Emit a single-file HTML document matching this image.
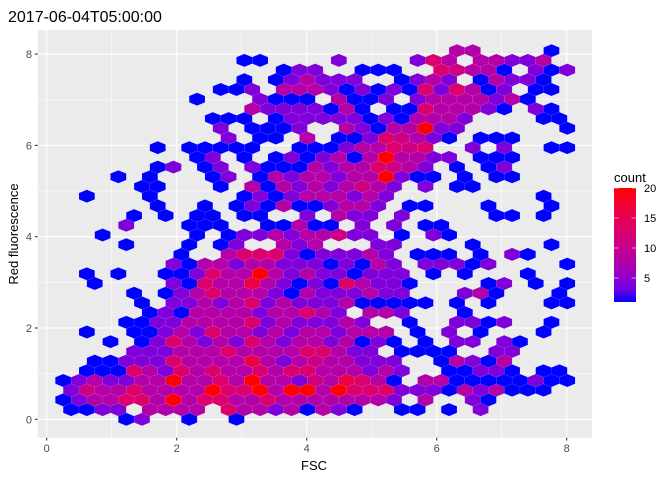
<!DOCTYPE html>
<html><head><meta charset="utf-8"><style>
html,body{margin:0;padding:0;background:#fff;}
svg{display:block;font-family:"Liberation Sans",Arial,sans-serif;}
</style></head><body>
<svg id="chart" width="672" height="480" viewBox="0 0 672 480">
<text x="8" y="22" font-size="16" fill="#000">2017-06-04T05:00:00</text>
<rect x="37.7" y="30" width="554.3" height="407.7" fill="#EBEBEB"/>
<g id="grid"></g>
<g id="hexes"></g>
<g id="axes"></g>
<text x="314" y="470" font-size="13" fill="#000" text-anchor="middle">FSC</text>
<text x="0" y="0" font-size="13" fill="#000" text-anchor="middle" transform="translate(18,234) rotate(-90)">Red fluorescence</text>
<g id="legend">
<text x="614" y="182" font-size="13" fill="#000">count</text>
</g>
</svg>
<script>
// hexbin grid (row 0 = bottom), each char = intensity level (index into levelCounts)
const rows = [
".....12..1..1.....................",
".1122.3333.533231321..11.1.2......",
".12335537355335333333" + "32.3..21" + ".....",
".243353333755737" + "7375552221323111" + "..",
".12322337335373324" + "3653" + "1.3311111211",
"..111" + "532535335355333232" + "..11221.11.",
"..." + "11222533336323" + "433222" + "..13213" + "....",
"....." + "2223335333355322" + "." + "1111" + ".." + "22" + "....",
"...." + "1.12532325323323121" + ".1.22.21...",
"..1.." + "11232533232332333" + ".1.2.1...1..",
"....." + "1122333352322232" + "..1..2212..1.",
"......" + "1213333233532" + "." + "332" + "..." + "1" + ".......",
"......" + "1.22323523222311111" + ".1.1...11",
"....." + "1.1235333213222322" + "...231...1.",
"...1...." + "2153363212153221" + "....12.1.1",
"..1.1.." + "1125337323221222" + ".1.1...1...",
"........" + "213323322212132" + ".22212....1",
"........1.." + "35552122232" + ".111.1.21...",
"....." + "1...1.12..323...22" + "....1....1.",
"...1.....1.1" + "223233422.1.21" + "........",
".....2...111..11" + "3" + "11.2.2.11" + "........",
".....1.1.11.11..2" + ".322.2" + "....." + "11.1..",
".......1..1.12131" + "1" + "2332.11...1...1.",
"..1...1.....12123" + "33232" + ".........1..",
"......11...1.31323" + "23432.2.11" + "......",
"....1.1...12.1323" + "32337211.1.11....",
".......12.12.2111" + "3" + "2335432.1.12....",
".........12.1.121" + "231373322.111....",
".......1.11111..1" + "1" + "1233545..2.2..11",
"...........2.11.3" + "." + "11254321.111....",
"...........2.1112" + ".." + "32133722......1",
"..........111.122" + "2221213332....11.",
".............3222" + "2" + "131.11533321.21.",
".........1...2111" + "." + "3112.23333231...",
"...........112.33" + "3" + "212121525312.11.",
"............1.123" + "222..1232.13221...",
"...............12" + "2" + "..111..54331.212",
"............11..." + "." + "2....253.33223..",
"..........................33....1."
];
const levelCounts = [0, 1, 4, 8, 11, 13, 16, 20];
const xTicks = [0, 2, 4, 6, 8];
const xMinor = [1, 3, 5, 7];
const yTicks = [0, 2, 4, 6, 8];
const yMinor = [1, 3, 5, 7];
const legendTicks = [5, 10, 15, 20];

const NS = "http://www.w3.org/2000/svg";
const xS = v => 46.7 + 65 * v;
const yS = v => 419.3 - 45.65 * v;
const colW = 0.2423, rowH = 0.2125, x0d = 0.012, y0d = 0.0;
const hw = colW * 65 / 2, R = rowH * 45.65 / 1.5;

function mk(tag, attrs, parent) {
  const el = document.createElementNS(NS, tag);
  for (const k in attrs) el.setAttribute(k, attrs[k]);
  parent.appendChild(el);
  return el;
}
function toLin(c){c/=255;return c<=0.04045?c/12.92:Math.pow((c+0.055)/1.055,2.4);}
function toS(c){c=c<=0.0031308?12.92*c:1.055*Math.pow(c,1/2.4)-0.055;return Math.max(0,Math.min(255,Math.round(c*255)));}
function rgb2lab(r,g,b){r=toLin(r);g=toLin(g);b=toLin(b);
 let X=(r*0.4124+g*0.3576+b*0.1805)/0.95047,Y=(r*0.2126+g*0.7152+b*0.0722),Z=(r*0.0193+g*0.1192+b*0.9505)/1.08883;
 const f=t=>t>0.008856?Math.cbrt(t):7.787*t+16/116;
 return [116*f(Y)-16,500*(f(X)-f(Y)),200*(f(Y)-f(Z))];}
function lab2rgb(L,a,b){let fy=(L+16)/116,fx=fy+a/500,fz=fy-b/200;
 const fi=t=>t*t*t>0.008856?t*t*t:(t-16/116)/7.787;
 let X=fi(fx)*0.95047,Y=fi(fy),Z=fi(fz)*1.08883;
 let r=X*3.2406+Y*-1.5372+Z*-0.4986,g=X*-0.9689+Y*1.8758+Z*0.0415,bb=X*0.0557+Y*-0.2040+Z*1.0570;
 return "rgb("+toS(r)+","+toS(g)+","+toS(bb)+")";}
const labLo = rgb2lab(0,0,255), labHi = rgb2lab(255,0,0);
function col(count){const t=Math.max(0,Math.min(1,(count-1)/19));
 return lab2rgb(labLo[0]+t*(labHi[0]-labLo[0]),labLo[1]+t*(labHi[1]-labLo[1]),labLo[2]+t*(labHi[2]-labLo[2]));}

const grid = document.getElementById("grid");
xMinor.forEach(v=>{const l=mk("line",{x1:xS(v),x2:xS(v),y1:30,y2:437.7,stroke:"#fff","stroke-width":0.55},grid);

});
yMinor.forEach(v=>{const l=mk("line",{x1:37.7,x2:592,y1:yS(v),y2:yS(v),stroke:"#fff","stroke-width":0.55},grid);

});
xTicks.forEach(v=>{const l=mk("line",{x1:xS(v),x2:xS(v),y1:30,y2:437.7,stroke:"#fff","stroke-width":1.1},grid);

});
yTicks.forEach(v=>{const l=mk("line",{x1:37.7,x2:592,y1:yS(v),y2:yS(v),stroke:"#fff","stroke-width":1.1},grid);

});

const hg = document.getElementById("hexes");
rows.forEach((row, r) => {
  for (let c = 0; c < row.length; c++) {
    const ch = row[c];
    if (ch === ".") continue;
    const lvl = parseInt(ch, 10);
    if (!lvl) continue;
    const count = levelCounts[lvl];
    const cx = xS(x0d + colW * (c + (r % 2) * 0.5));
    const cy = yS(y0d + rowH * r);
    const pts = [[0,-R],[hw,-R/2],[hw,R/2],[0,R],[-hw,R/2],[-hw,-R/2]]
      .map(p => (cx+p[0]).toFixed(2)+","+(cy+p[1]).toFixed(2)).join(" ");
    const h = mk("polygon",{points:pts,fill:col(count),stroke:"rgba(255,255,255,0.12)","stroke-width":0.5},hg);
    
    
  }
});

const ax = document.getElementById("axes");
xTicks.forEach(v=>{
  const t=mk("line",{x1:xS(v),x2:xS(v),y1:437.7,y2:440.5,stroke:"#333","stroke-width":1.1},ax);
  
  
  const l=mk("text",{x:xS(v),y:452,"font-size":11,fill:"#4D4D4D","text-anchor":"middle"},ax);
  l.textContent=v;
  
  
});
yTicks.forEach(v=>{
  const t=mk("line",{x1:34.9,x2:37.7,y1:yS(v),y2:yS(v),stroke:"#333","stroke-width":1.1},ax);
  
  
  const l=mk("text",{x:32,y:yS(v)+4,"font-size":11,fill:"#4D4D4D","text-anchor":"end"},ax);
  l.textContent=v;
  
  
});

const lg = document.getElementById("legend");
const defs = mk("defs",{},lg);
const grad = mk("linearGradient",{id:"cbar",x1:0,y1:1,x2:0,y2:0},defs);
for (let i=0;i<=10;i++){mk("stop",{offset:i/10,"stop-color":col(1+19*i/10)},grad);}
const lyS = v => 302 - (v-1)*(302-188)/19;
const bar = mk("rect",{x:614,y:188,width:22,height:114,fill:"url(#cbar)"},lg);


legendTicks.forEach(v=>{
  const y=lyS(v);
  const a=mk("line",{x1:614,x2:618.5,y1:y,y2:y,stroke:"#fff","stroke-width":0.8,opacity:0.7},lg);
  
  
  const b=mk("line",{x1:631.5,x2:636,y1:y,y2:y,stroke:"#fff","stroke-width":0.8,opacity:0.7},lg);
  
  
  const l=mk("text",{x:644,y:y+4,"font-size":11,fill:"#000"},lg);
  l.textContent=v;
  
  
});
</script>
</body></html>
